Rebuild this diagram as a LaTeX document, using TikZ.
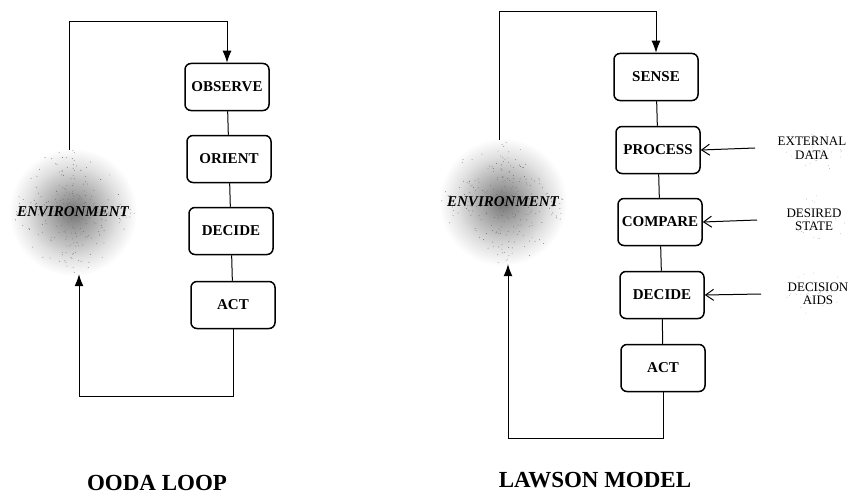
\documentclass[tikz,border=0pt]{standalone}
\usepackage{fontspec}
\setmainfont{Liberation Serif}
\usetikzlibrary{arrows.meta,calc}
\pgfdeclareradialshading{envcloud}{\pgfpoint{0bp}{0bp}}{color(0bp)=(black!55); color(8bp)=(black!35); color(18bp)=(black!12); color(25bp)=(white); color(50bp)=(white)}
\tikzset{
  stagebox/.style={draw, line width=1.5pt, rounded corners=6pt, fill=white, minimum width=84pt, minimum height=47pt, inner sep=1pt, font=\fontsize{15}{17}\selectfont\bfseries},
  envtext/.style={circle, minimum size=124pt, inner sep=0pt, font=\fontsize{15}{17}\selectfont\bfseries\itshape},
  inputnote/.style={align=center, inner sep=2pt, font=\fontsize{13}{13.5}\selectfont},
  loopline/.style={line width=1pt},
  looparrow/.style={line width=1pt, -{Latex[length=12pt,width=9pt]}},
  feedarrow/.style={line width=1pt, -{Straight Barb[length=8pt,width=11pt]}},
  speck/.style={black!55},
  modeltitle/.style={font=\fontsize{23}{25}\selectfont\bfseries}
}
\begin{document}
\begin{tikzpicture}[x=1pt, y=-1pt]
  \useasboundingbox (0,0) rectangle (851,503);
  \pgfmathsetseed{11}
  % OODA loop
  \coordinate (cloud1) at (73,212);
  \shade[shading=envcloud] (cloud1) circle (64);
  \foreach \k in {1,...,260} {
    \fill[speck] ($(cloud1)+({360*rnd}:{62*rnd})$) circle (0.45);
  }
  \node[envtext] (env1) at (cloud1) {ENVIRONMENT};
  \node[stagebox] (observe) at (227,87) {OBSERVE};
  \node[stagebox] (orient) at (229,159) {ORIENT};
  \node[stagebox] (decide1) at (231,231) {DECIDE};
  \node[stagebox] (act1) at (233,305) {ACT};
  \draw[loopline] (observe) -- (orient) (orient) -- (decide1) (decide1) -- (act1);
  \coordinate (top1) at (69,22);
  \coordinate (bot1) at (79,396);
  \draw[looparrow] (top1 |- env1.north) -- (top1) -| (observe.north);
  \draw[looparrow] (act1.south) |- (bot1) -- (bot1 |- env1.south);
  \node[modeltitle] (ooda) at (157,483) {OODA LOOP};
  % Lawson model
  \coordinate (cloud2) at (503,202);
  \shade[shading=envcloud] (cloud2) circle (64);
  \foreach \k in {1,...,260} {
    \fill[speck] ($(cloud2)+({360*rnd}:{62*rnd})$) circle (0.45);
  }
  \node[envtext] (env2) at (cloud2) {ENVIRONMENT};
  \node[stagebox] (sense) at (656,77) {SENSE};
  \node[stagebox] (process) at (658,150) {PROCESS};
  \node[stagebox] (compare) at (660,222) {COMPARE};
  \node[stagebox] (decide2) at (662,295) {DECIDE};
  \node[stagebox] (act2) at (663,368) {ACT};
  \draw[loopline] (sense) -- (process) (process) -- (compare) (compare) -- (decide2) (decide2) -- (act2);
  \coordinate (top2) at (499,12);
  \coordinate (bot2) at (508,438);
  \draw[looparrow] (top2 |- env2.north) -- (top2) -| (sense.north);
  \draw[looparrow] (act2.south) |- (bot2) -- (bot2 |- env2.south);
  % faint specks behind the inputs
  \foreach \y in {148,220,294} {
    \foreach \k in {1,...,40} {
      \fill[black!35] ($(814,\y)+({360*rnd}:{rnd*34} and {rnd*26})$) circle (0.4);
    }
  }
  \node[inputnote] (extdata) at (812,148) {EXTERNAL\\DATA};
  \node[inputnote] (desired) at (814,220) {DESIRED\\STATE};
  \node[inputnote] (aids) at (818,294) {DECISION\\AIDS};
  \coordinate (in1) at (755,148);
  \coordinate (in2) at (757,220);
  \coordinate (in3) at (761,294);
  \draw[feedarrow] (in1) -- (process.east);
  \draw[feedarrow] (in2) -- (compare.east);
  \draw[feedarrow] (in3) -- (decide2.east);
  \node[modeltitle] (lawson) at (595,480) {LAWSON MODEL};
\end{tikzpicture}
\end{document}
